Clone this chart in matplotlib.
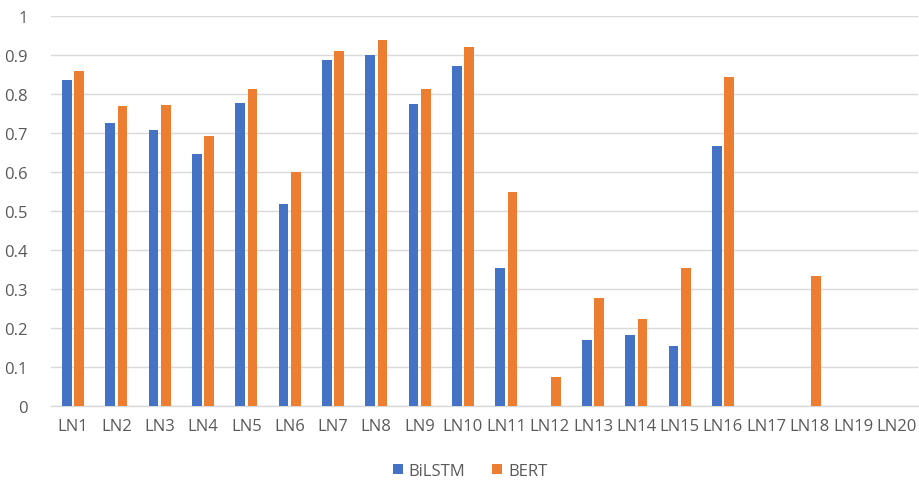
import numpy as np
import matplotlib.pyplot as plt

plt.rcParams['font.family'] = ['Open Sans', 'DejaVu Sans']

labels = ['LN%d' % i for i in range(1, 21)]
bilstm = [0.835, 0.725, 0.707, 0.646, 0.777, 0.518, 0.887, 0.900, 0.773, 0.872,
          0.352, 0.0, 0.168, 0.181, 0.153, 0.667, 0.0, 0.0, 0.0, 0.0]
bert = [0.858, 0.769, 0.771, 0.692, 0.813, 0.600, 0.910, 0.937, 0.813, 0.920,
        0.549, 0.074, 0.275, 0.222, 0.352, 0.843, 0.0, 0.332, 0.0, 0.0]

fig = plt.figure(figsize=(9.2, 4.81), dpi=100)
ax = fig.add_axes([51.3/920, 1-406.7/481, (918-51.3)/920, (406.7-16.7)/481])

x = np.arange(len(labels))
w = 0.224
ax.bar(x - 0.143, bilstm, w, color='#4472C4', label='BiLSTM', zorder=3)
ax.bar(x + 0.143, bert, w, color='#ED7D31', label='BERT', zorder=3)

ax.set_xlim(-0.5, len(labels) - 0.5)
ax.set_ylim(0, 1)
ax.set_yticks(np.arange(0, 1.01, 0.1))
ax.set_yticklabels(['0', '0.1', '0.2', '0.3', '0.4', '0.5', '0.6', '0.7', '0.8', '0.9', '1'])
ax.set_xticks(x)
ax.set_xticklabels(labels)
ax.grid(axis='y', color='#D9D9D9', linewidth=1, zorder=0)
for s in ['top', 'right', 'left']:
    ax.spines[s].set_visible(False)
ax.spines['bottom'].set_color('#D9D9D9')
ax.spines['bottom'].set_linewidth(1)
ax.tick_params(axis='both', length=0, colors='#595959', labelsize=12)
ax.tick_params(axis='y', pad=17)
ax.tick_params(axis='x', pad=9)

fig.legend(loc='center', bbox_to_anchor=(470/920, 1-472/481), ncol=2, frameon=False,
           fontsize=12, labelcolor='#595959', handlelength=0.6, handleheight=0.6,
           handletextpad=0.35, columnspacing=1.6)

fig.savefig('out.png', dpi=100)
